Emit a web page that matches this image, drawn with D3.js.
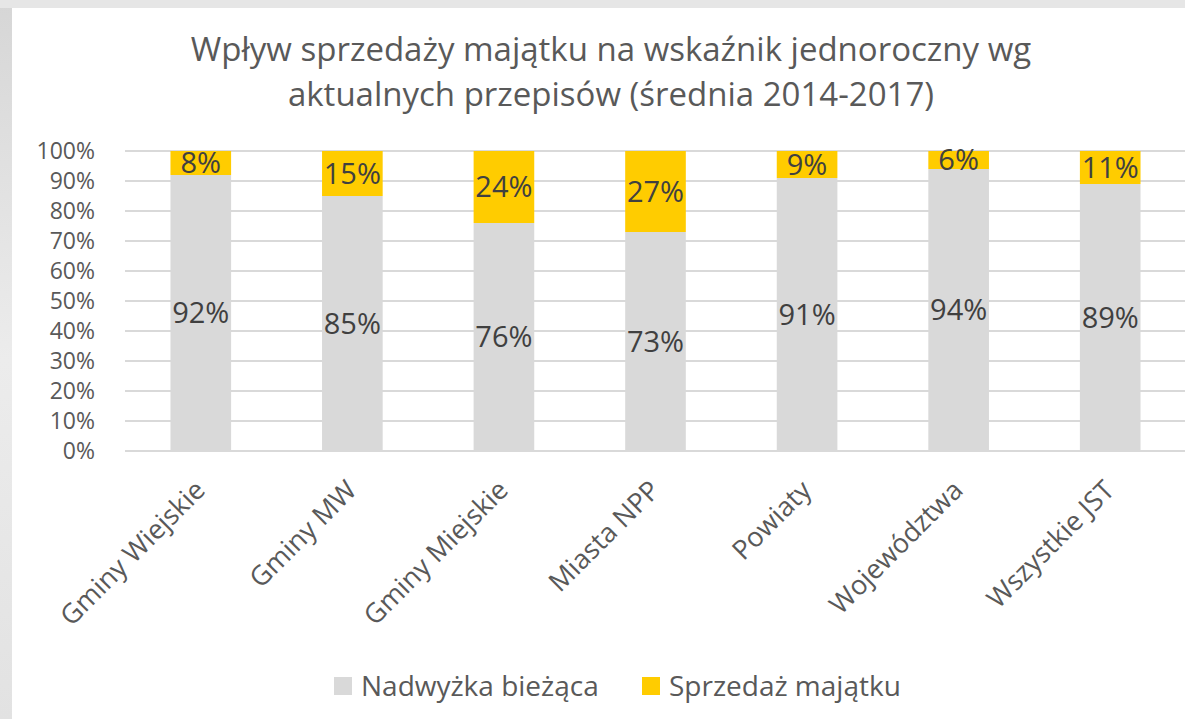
<!DOCTYPE html>
<html>
<head>
<meta charset="utf-8">
<script src="https://cdn.jsdelivr.net/npm/d3@7"></script>
<style>
  body { margin: 0; background: #fff; }
  svg { display: block; font-family: "Open Sans", "Noto Sans", sans-serif; }
</style>
</head>
<body>
<div id="chart"></div>
<script>
// Data
const categories = ["Gminy Wiejskie", "Gminy MW", "Gminy Miejskie", "Miasta NPP", "Powiaty", "Województwa", "Wszystkie JST"];
const nadwyzka = [0.92, 0.85, 0.76, 0.73, 0.91, 0.94, 0.89];
const sprzedaz = [0.08, 0.15, 0.24, 0.27, 0.09, 0.06, 0.11];
const seriesNames = ["Nadwyżka bieżąca", "Sprzedaż majątku"];
const seriesColors = ["#d9d9d9", "#ffcc00"];
const yTicks = [0, 0.1, 0.2, 0.3, 0.4, 0.5, 0.6, 0.7, 0.8, 0.9, 1.0];
const titleLines = ["Wpływ sprzedaży majątku na wskaźnik jednoroczny wg", "aktualnych przepisów (średnia 2014-2017)"];

const width = 1185, height = 719;
const margin = {top: 151, right: -1, bottom: 268, left: 125};
const textColor = "#595959";

const svg = d3.select("#chart").append("svg")
  .attr("width", width)
  .attr("height", height);

// faint slide background at the edges
const grad = svg.append("defs").append("linearGradient")
  .attr("id", "edge").attr("x1", 0).attr("x2", 0).attr("y1", 0).attr("y2", 1);
grad.append("stop").attr("offset", "0%").attr("stop-color", "#d6d6d6");
grad.append("stop").attr("offset", "50%").attr("stop-color", "#ececec");
grad.append("stop").attr("offset", "100%").attr("stop-color", "#e2e2e2");
svg.append("rect").attr("x", 0).attr("y", 0).attr("width", 12).attr("height", height).attr("fill", "url(#edge)");
svg.append("rect").attr("x", 0).attr("y", 0).attr("width", width).attr("height", 8).attr("fill", "#e6e6e6");

const rows = categories.map((c, i) => ({cat: c, a: nadwyzka[i], b: sprzedaz[i]}));

const x = d3.scaleBand()
  .domain(categories)
  .range([margin.left, width - margin.right])
  .paddingInner(0.6)
  .paddingOuter(0.3);
const y = d3.scaleLinear()
  .domain([0, 1])
  .range([height - margin.bottom, margin.top]);

// gridlines
svg.append("g")
  .selectAll("line")
  .data(yTicks)
  .join("line")
  .attr("x1", margin.left)
  .attr("x2", width)
  .attr("y1", d => y(d))
  .attr("y2", d => y(d))
  .attr("stroke", "#d9d9d9")
  .attr("stroke-width", 2);

// y tick labels
const yAxis = svg.append("g")
  .attr("transform", `translate(${margin.left},0)`)
  .call(d3.axisLeft(y).tickValues(yTicks).tickFormat(d3.format(".0%")).tickSize(0).tickPadding(30));
yAxis.select(".domain").remove();
yAxis.selectAll("text")
  .attr("fill", textColor)
  .attr("font-size", "23px")
  .attr("font-family", "Open Sans, sans-serif");

// stacked bars
const stack = d3.stack().keys(["a", "b"])(rows);
const layers = svg.append("g").selectAll("g")
  .data(stack)
  .join("g")
  .attr("fill", (d, i) => seriesColors[i]);
layers.selectAll("rect")
  .data(d => d)
  .join("rect")
  .attr("x", d => x(d.data.cat))
  .attr("width", x.bandwidth())
  .attr("y", d => y(d[1]))
  .attr("height", d => y(d[0]) - y(d[1]));

// data labels
layers.selectAll("text")
  .data(d => d)
  .join("text")
  .attr("x", d => x(d.data.cat) + x.bandwidth() / 2)
  .attr("y", d => (y(d[0]) + y(d[1])) / 2)
  .attr("dy", "0.36em")
  .attr("text-anchor", "middle")
  .attr("fill", "#404040")
  .attr("font-size", "29px")
  .text(d => Math.round((d[1] - d[0]) * 100) + "%");

// x axis line
svg.append("line")
  .attr("x1", margin.left).attr("x2", width)
  .attr("y1", y(0)).attr("y2", y(0))
  .attr("stroke", "#d9d9d9").attr("stroke-width", 2);

// category labels
svg.append("g").selectAll("text")
  .data(categories)
  .join("text")
  .attr("transform", d => `translate(${x(d) + x.bandwidth() / 2 - 1},${y(0) + 34}) rotate(-45)`)
  .attr("text-anchor", "end")
  .attr("dy", "0.36em")
  .attr("fill", textColor)
  .attr("font-size", "27px")
  .text(d => d);

// title
svg.append("text")
  .attr("x", 611)
  .attr("y", 61)
  .attr("text-anchor", "middle")
  .attr("fill", textColor)
  .attr("font-size", "33px")
  .selectAll("tspan")
  .data(titleLines)
  .join("tspan")
  .attr("x", 611)
  .attr("dy", (d, i) => i === 0 ? 0 : 45)
  .text(d => d);

// legend
const legend = svg.append("g").attr("transform", "translate(334,686)");
const legendX = [0, 308];
const items = legend.selectAll("g")
  .data(seriesNames)
  .join("g")
  .attr("transform", (d, i) => `translate(${legendX[i]},0)`);
items.append("rect")
  .attr("x", 0).attr("y", -9)
  .attr("width", 18).attr("height", 18)
  .attr("fill", (d, i) => seriesColors[i]);
items.append("text")
  .attr("x", 27)
  .attr("dy", "0.36em")
  .attr("fill", textColor)
  .attr("font-size", "28px")
  .text(d => d);
</script>
</body>
</html>
